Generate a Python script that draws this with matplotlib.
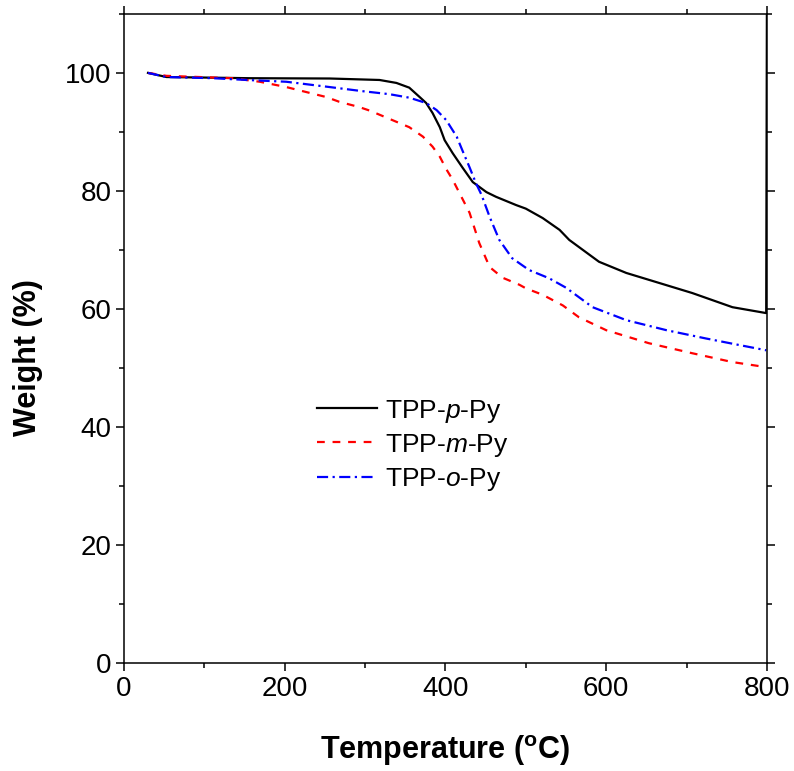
import matplotlib
matplotlib.use('Agg')
import matplotlib.pyplot as plt
import numpy as np
from matplotlib.ticker import MultipleLocator

plt.rcParams['font.family'] = ['Liberation Sans', 'DejaVu Sans']
plt.rcParams['mathtext.fontset'] = 'custom'
plt.rcParams['mathtext.rm'] = 'Liberation Sans'
plt.rcParams['mathtext.it'] = 'Liberation Sans:italic'
plt.rcParams['mathtext.bf'] = 'Liberation Sans:bold'

# TGA curves (temperature in C, weight in %)
temp_p = [30, 53, 157, 256, 318, 339, 355, 368, 376, 384, 393, 399, 409, 421, 434, 451, 463,
          488, 500, 521, 542, 554, 566, 591, 625, 666, 707, 757, 799, 800]
weight_p = [100, 99.3, 99.1, 99.05, 98.8, 98.3, 97.5, 95.9, 94.9, 93.2, 90.8, 88.6, 86.4, 84.0,
            81.5, 79.8, 79.0, 77.6, 77.0, 75.4, 73.4, 71.7, 70.5, 68.0, 66.1, 64.4, 62.7, 60.3,
            59.3, 120]

temp_m = [30, 53, 94, 135, 169, 202, 252, 268, 293, 306, 334, 355, 372, 384, 393, 401, 409,
          418, 430, 442, 455, 471, 492, 500, 521, 546, 566, 600, 653, 707, 757, 796]
weight_m = [100, 99.5, 99.3, 99.1, 98.5, 97.6, 95.9, 95.1, 94.2, 93.6, 92.0, 90.8, 89.2, 87.5,
            85.8, 83.7, 81.9, 79.5, 76.3, 71.2, 67.1, 65.3, 64.1, 63.5, 62.4, 60.6, 58.6, 56.4,
            54.2, 52.5, 51.0, 50.2]

temp_o = [30, 53, 111, 153, 202, 256, 297, 330, 355, 376, 389, 401, 414, 421, 430, 438, 445,
          455, 467, 483, 504, 529, 550, 583, 625, 675, 724, 765, 799]
weight_o = [100, 99.3, 99.1, 98.8, 98.5, 97.6, 96.9, 96.4, 95.8, 94.9, 93.7, 92.0, 89.2, 86.9,
            84.0, 81.3, 79.3, 75.6, 71.7, 68.6, 66.6, 65.2, 63.6, 60.3, 58.1, 56.4, 55.0, 53.9,
            53.0]

labels = ['TPP-$\\it{p}$-Py', 'TPP-$\\it{m}$-Py', 'TPP-$\\it{o}$-Py']

fig = plt.figure(figsize=(7.94, 7.71), dpi=100)
ax = fig.add_axes([0.156, 0.14, 0.81, 0.842])

ax.plot(temp_p, weight_p, color='black', lw=1.6, label=labels[0])
ax.plot(temp_m, weight_m, color='red', lw=1.6, dashes=(3.5, 3.5), label=labels[1])
ax.plot(temp_o, weight_o, color='blue', lw=1.6, dashes=(5, 2, 1, 2), label=labels[2])

ax.set_xlim(0, 800)
ax.set_ylim(0, 110)
ax.xaxis.set_major_locator(MultipleLocator(200))
ax.xaxis.set_minor_locator(MultipleLocator(100))
ax.yaxis.set_major_locator(MultipleLocator(20))
ax.yaxis.set_minor_locator(MultipleLocator(10))
ax.tick_params(which='both', direction='out', top=True, right=True, width=1.1,
               labelsize=20, pad=3)
ax.tick_params(which='major', length=6)
ax.tick_params(which='minor', length=3.5)
for s in ax.spines.values():
    s.set_linewidth(1.1)

ax.set_xlabel('Temperature ($^\\mathbf{o}$C)', fontsize=22, fontweight='bold')
ax.set_ylabel('Weight (%)', fontsize=22, fontweight='bold')
ax.xaxis.set_label_coords(0.5, -0.108)
ax.yaxis.set_label_coords(-0.126, 0.47)

ax.legend(loc='upper left', bbox_to_anchor=(0.301, 0.409), frameon=False, fontsize=19,
          handlelength=2.25, handletextpad=0.3, labelspacing=0.27,
          borderpad=0, borderaxespad=0)

fig.savefig('out.png', dpi=100)
